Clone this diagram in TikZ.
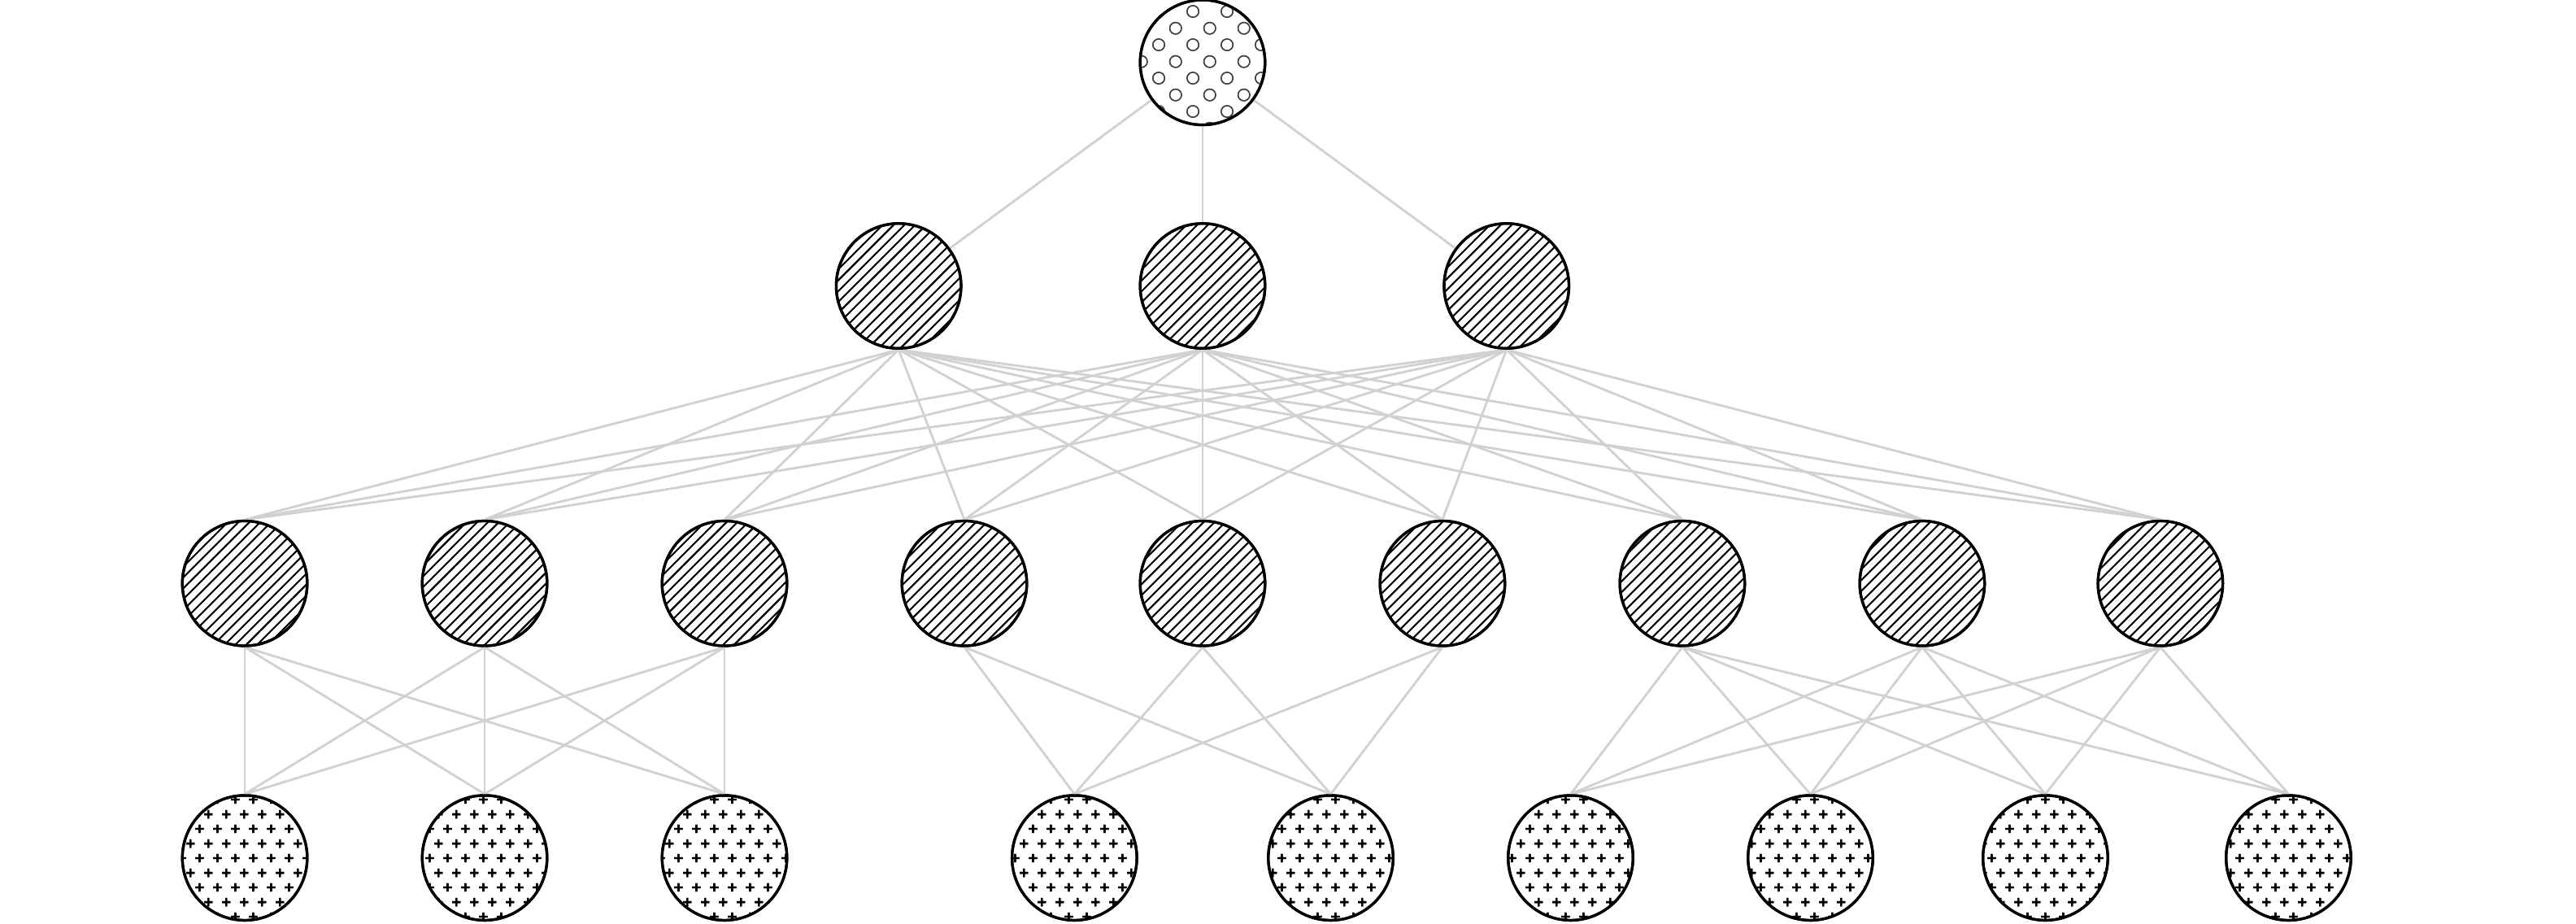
\documentclass[tikz,border=0pt]{standalone}
\usepackage{tikz}
\usetikzlibrary{patterns}

% fill patterns of the three kinds of units
\pgfdeclarepatternformonly{rings}{\pgfpointorigin}{\pgfpoint{10.3pt}{10.2pt}}{\pgfpoint{10.3pt}{10.2pt}}{%
  \pgfsetlinewidth{0.35pt}
  \pgfpathcircle{\pgfpoint{2.5pt}{2.5pt}}{1.8pt}
  \pgfpathcircle{\pgfpoint{7.65pt}{7.6pt}}{1.8pt}
  \pgfusepath{stroke}}
\pgfdeclarepatternformonly{pluses}{\pgfpointorigin}{\pgfpoint{5.4pt}{9pt}}{\pgfpoint{5.4pt}{9pt}}{%
  \pgfsetlinewidth{0.6pt}
  \pgfpathmoveto{\pgfpoint{0.05pt}{2.25pt}}\pgfpathlineto{\pgfpoint{2.65pt}{2.25pt}}
  \pgfpathmoveto{\pgfpoint{1.35pt}{0.95pt}}\pgfpathlineto{\pgfpoint{1.35pt}{3.55pt}}
  \pgfpathmoveto{\pgfpoint{2.75pt}{6.75pt}}\pgfpathlineto{\pgfpoint{5.35pt}{6.75pt}}
  \pgfpathmoveto{\pgfpoint{4.05pt}{5.45pt}}\pgfpathlineto{\pgfpoint{4.05pt}{8.05pt}}
  \pgfusepath{stroke}}
\pgfdeclarepatternformonly{hatch}{\pgfpoint{-0.1pt}{-0.1pt}}{\pgfpoint{3.4pt}{3.4pt}}{\pgfpoint{3.3pt}{3.3pt}}{%
  \pgfsetlinewidth{0.45pt}
  \pgfpathmoveto{\pgfpoint{-0.1pt}{-0.1pt}}\pgfpathlineto{\pgfpoint{3.4pt}{3.4pt}}
  \pgfusepath{stroke}}

\tikzset{
  unit/.style={circle, draw=black, line width=0.8pt, minimum size=38pt, inner sep=0pt},
  root/.style={unit, pattern=rings, pattern color=black!75},
  hidden/.style={unit, pattern=hatch},
  leaf/.style={unit, pattern=pluses},
  link/.style={draw=black!18, line width=0.7pt}
}

\begin{document}
\begin{tikzpicture}[x=0.5pt,y=-0.5pt]
\useasboundingbox (0,0) rectangle (1568,562);

\node[root] (r) at (732,38) {};

\foreach \x [count=\i] in {547,732,917}
  \node[hidden] (m\i) at (\x,174) {};

\foreach \x [count=\i] in {149,295,441,587,732,878,1024,1170,1315}
  \node[hidden] (h\i) at (\x,355) {};

\foreach \x [count=\i] in {149,295,441,654,810,956,1102,1245,1393}
  \node[leaf] (l\i) at (\x,522) {};

% links
\foreach \i in {1,2,3}
  \draw[link] (r) -- (m\i);
\foreach \i in {1,2,3}
  \foreach \j in {1,...,9}
    \draw[link] (m\i.south) -- (h\j.north);
% left group
\foreach \i in {1,2,3}
  \foreach \j in {1,2,3}
    \draw[link] (h\i.south) -- (l\j.north);
% middle group
\foreach \i in {4,5,6}
  \foreach \j in {4,5}
    \draw[link] (h\i.south) -- (l\j.north);
% right group
\foreach \i in {7,8,9}
  \foreach \j in {6,7,8,9}
    \draw[link] (h\i.south) -- (l\j.north);

% redraw units over the links
\node[root] at (r) {};
\foreach \i in {1,2,3} \node[hidden] at (m\i) {};
\foreach \i in {1,...,9} \node[hidden] at (h\i) {};
\foreach \i in {1,...,9} \node[leaf] at (l\i) {};
\end{tikzpicture}
\end{document}
